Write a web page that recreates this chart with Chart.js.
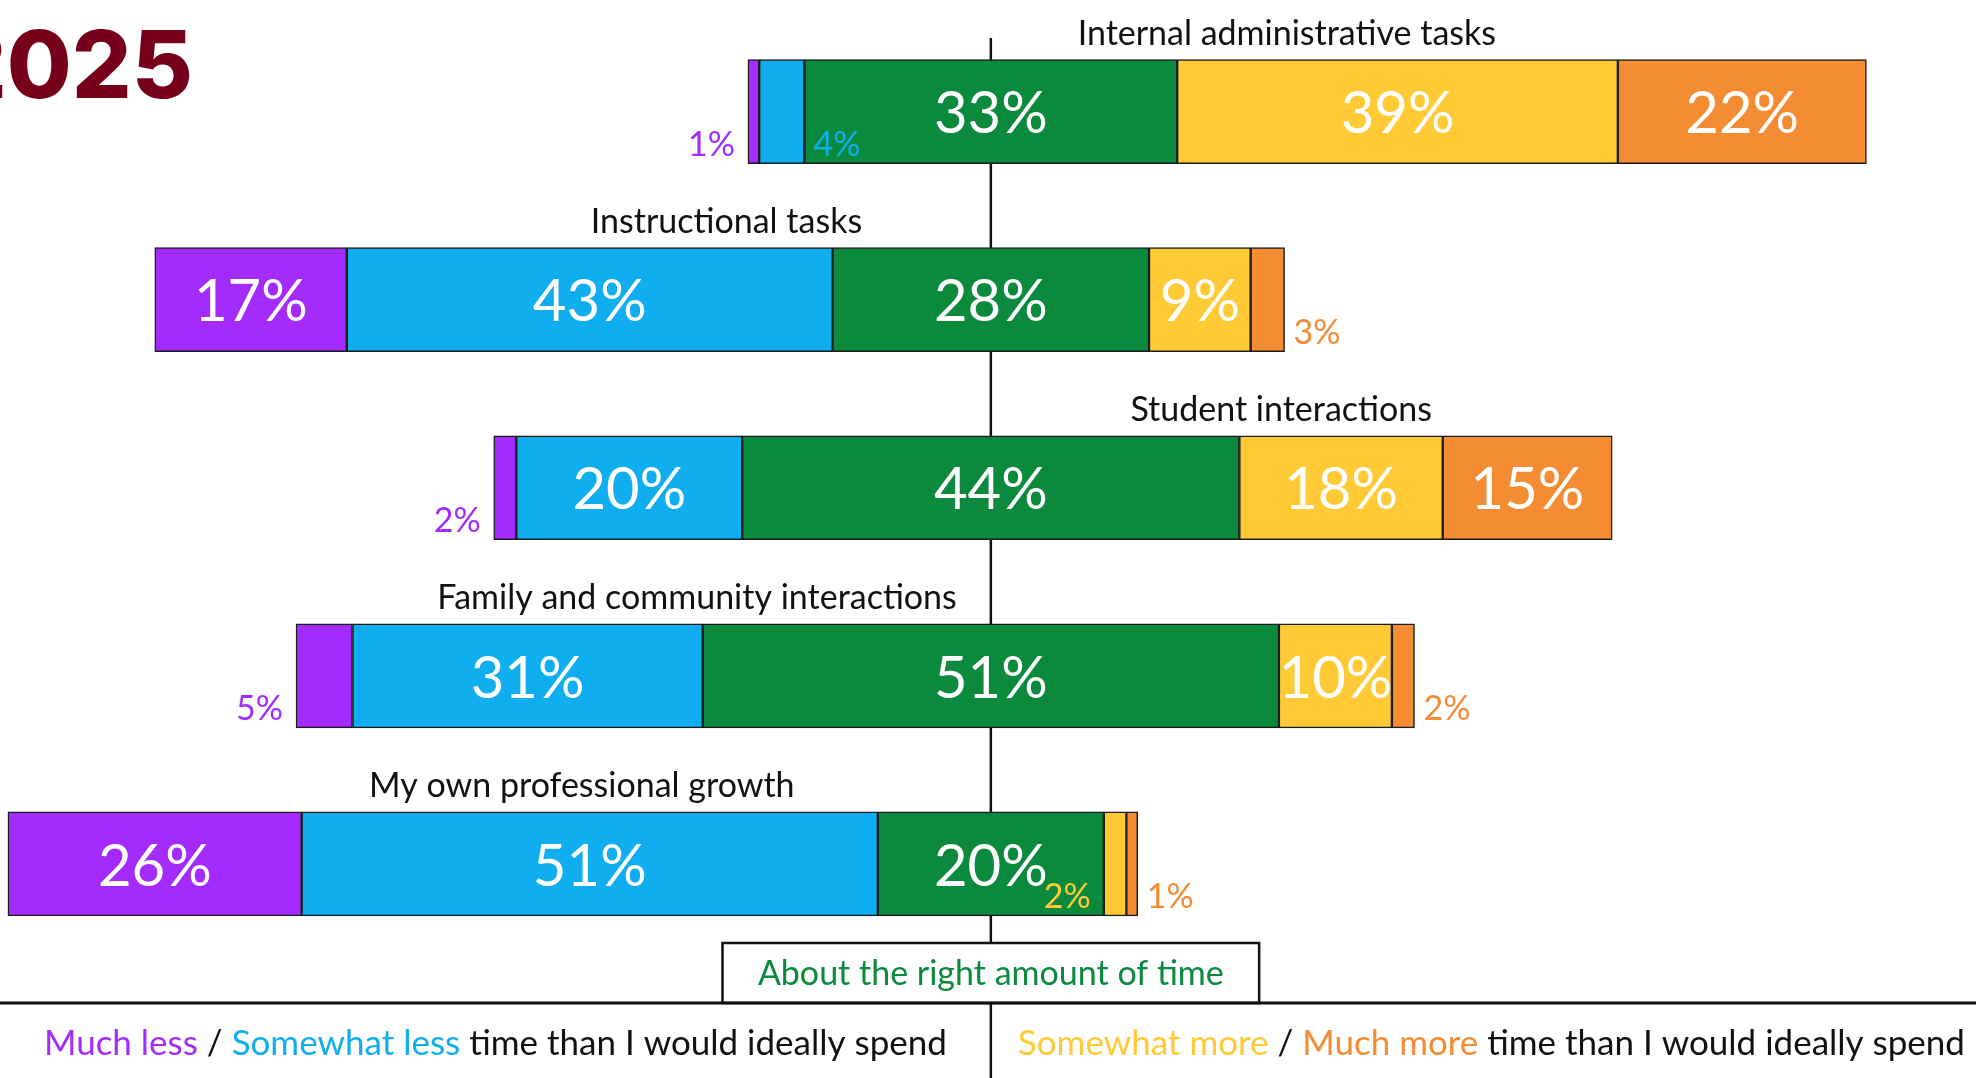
<!DOCTYPE html>
<html>
<head>
<meta charset="utf-8">
<title>Time spent on tasks, 2025</title>
<script src="https://cdn.jsdelivr.net/npm/chart.js@4.4.1/dist/chart.umd.min.js"></script>
<style>
  html, body { margin: 0; padding: 0; background: #fff; }
  canvas { display: block; }
</style>
</head>
<body>
<canvas id="timeChart" width="1976" height="1078"></canvas>
<script>
// survey categories, top to bottom
const categories = [
    'Internal administrative tasks',
    'Instructional tasks',
    'Student interactions',
    'Family and community interactions',
    'My own professional growth'
];

// share of respondents (%) per answer
const muchLess     = [1, 17, 2, 5, 26];
const somewhatLess = [4, 43, 20, 31, 51];
const aboutRight   = [33, 28, 44, 51, 20];
const somewhatMore = [39, 9, 18, 10, 2];
const muchMore     = [22, 3, 15, 2, 1];

// category titles are centred at this offset (percentage points) from the middle line
const titleAnchor = [26.2, -23.4, 25.7, -26, -36.2];

const FONT = 'Lato, "Open Sans", sans-serif';
const colors = {
    muchLess: '#a32bfd',
    somewhatLess: '#11aeef',
    aboutRight: '#0b8a3d',
    somewhatMore: '#ffca35',
    muchMore: '#f48c33'
};

// floating [start, end] ranges, with "about right" split across the zero line
const ranges = { muchLess: [], somewhatLess: [], aboutRight: [], somewhatMore: [], muchMore: [] };
categories.forEach(function(c, i) {
    const half = aboutRight[i] / 2;
    ranges.aboutRight.push([-half, half]);
    ranges.somewhatLess.push([-half - somewhatLess[i], -half]);
    ranges.muchLess.push([-half - somewhatLess[i] - muchLess[i], -half - somewhatLess[i]]);
    ranges.somewhatMore.push([half, half + somewhatMore[i]]);
    ranges.muchMore.push([half + somewhatMore[i], half + somewhatMore[i] + muchMore[i]]);
});

function series(key, values, side) {
    return {
        label: key,
        data: ranges[key],
        values: values,
        smallSide: side,   // where a small value's label goes
        backgroundColor: colors[key],
        borderColor: '#1c1c1c',
        borderWidth: 1.5,
        borderSkipped: false,
        grouped: false,
        barThickness: 104
    };
}

const extras = {
    id: 'extras',
    beforeDatasetsDraw(chart) {
        const ctx = chart.ctx;
        const x0 = chart.scales.x.getPixelForValue(0);
        ctx.save();
        ctx.strokeStyle = '#111';
        ctx.lineWidth = 2.5;
        ctx.beginPath();
        ctx.moveTo(x0, 38);
        ctx.lineTo(x0, chart.height);
        ctx.stroke();
        ctx.restore();
    },
    afterDatasetsDraw(chart) {
        const ctx = chart.ctx;
        const xs = chart.scales.x;
        const x0 = xs.getPixelForValue(0);
        ctx.save();

        // value labels
        chart.data.datasets.forEach(function(ds, d) {
            const meta = chart.getDatasetMeta(d);
            meta.data.forEach(function(bar, i) {
                const v = ds.values[i];
                const left = Math.min(bar.x, bar.base);
                const right = Math.max(bar.x, bar.base);
                const bottom = bar.y + bar.height / 2;
                if (v >= 6) {
                    ctx.font = '58px ' + FONT;
                    ctx.fillStyle = '#fff';
                    ctx.textAlign = 'center';
                    ctx.textBaseline = 'middle';
                    ctx.fillText(v + '%', (left + right) / 2, bar.y + 3);
                } else {
                    ctx.font = '34px ' + FONT;
                    ctx.fillStyle = ds.backgroundColor;
                    ctx.textBaseline = 'alphabetic';
                    if (ds.smallSide === 'left') {
                        ctx.textAlign = 'right';
                        ctx.fillText(v + '%', left - 13, bottom - 8);
                    } else {
                        ctx.textAlign = 'left';
                        ctx.fillText(v + '%', right + 9, bottom - 8);
                    }
                }
            });
        });

        // category titles above each bar
        const first = chart.getDatasetMeta(0);
        ctx.font = '34px ' + FONT;
        ctx.fillStyle = '#111';
        ctx.textAlign = 'center';
        ctx.textBaseline = 'alphabetic';
        categories.forEach(function(c, i) {
            const bar = first.data[i];
            ctx.fillText(c, xs.getPixelForValue(titleAnchor[i]), bar.y - bar.height / 2 - 15);
        });

        // neutral box and divider line
        const bx1 = xs.getPixelForValue(-23.75);
        const bx2 = xs.getPixelForValue(23.75);
        ctx.fillStyle = '#fff';
        ctx.fillRect(bx1, 943, bx2 - bx1, 60);
        ctx.strokeStyle = '#111';
        ctx.lineWidth = 2.5;
        ctx.strokeRect(bx1, 943, bx2 - bx1, 60);
        ctx.lineWidth = 3;
        ctx.beginPath();
        ctx.moveTo(0, 1003);
        ctx.lineTo(chart.width, 1003);
        ctx.stroke();

        ctx.font = '34px ' + FONT;
        ctx.fillStyle = colors.aboutRight;
        ctx.textAlign = 'center';
        ctx.fillText('About the right amount of time', x0, 985);

        // two-tone legend lines under the divider
        function multi(parts, cx, y) {
            ctx.font = '35px ' + FONT;
            ctx.textAlign = 'left';
            const w = parts.reduce(function(s, p) { return s + ctx.measureText(p[0]).width; }, 0);
            let x = cx - w / 2;
            parts.forEach(function(p) {
                ctx.fillStyle = p[1];
                ctx.fillText(p[0], x, y);
                x += ctx.measureText(p[0]).width;
            });
        }
        multi([['Much less', colors.muchLess], [' / ', '#111'], ['Somewhat less', colors.somewhatLess],
               [' time than I would ideally spend', '#111']], x0 / 2, 1055);
        multi([['Somewhat more', colors.somewhatMore], [' / ', '#111'], ['Much more', colors.muchMore],
               [' time than I would ideally spend', '#111']], (x0 + chart.width) / 2 + 8, 1055);

        // year heading, running off the left edge
        ctx.font = '800 94px Inter, ' + FONT;
        ctx.fillStyle = '#76001a';
        ctx.textAlign = 'right';
        ctx.fillText('2025', 193, 98);
        ctx.restore();
    }
};

const chart = new Chart(document.getElementById('timeChart').getContext('2d'), {
    type: 'bar',
    data: {
        labels: categories,
        datasets: [
            series('muchLess', muchLess, 'left'),
            series('somewhatLess', somewhatLess, 'right'),
            series('aboutRight', aboutRight, 'right'),
            series('somewhatMore', somewhatMore, 'left'),
            series('muchMore', muchMore, 'right')
        ]
    },
    options: {
        indexAxis: 'y',
        responsive: false,
        animation: false,
        layout: { padding: { top: 17.5, bottom: 120, left: 0, right: 0 } },
        scales: {
            x: { display: false, min: -87.7, max: 87.2 },
            y: { display: false }
        },
        plugins: {
            legend: { display: false },
            tooltip: { enabled: false }
        }
    },
    plugins: [extras]
});
</script>
</body>
</html>
